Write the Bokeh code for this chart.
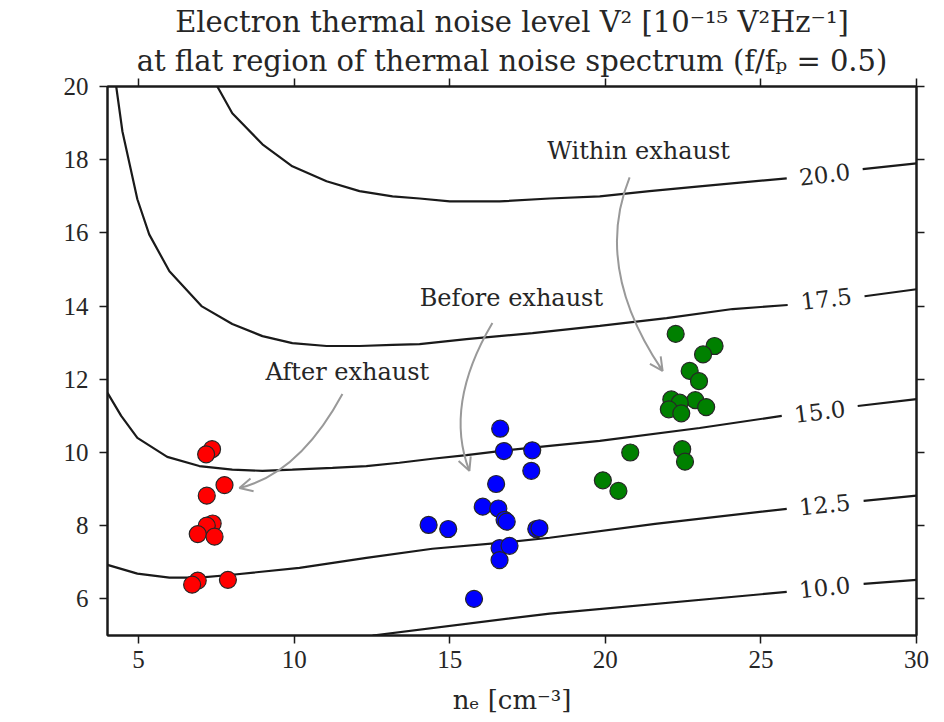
import math
from bokeh.plotting import figure
from bokeh.models import Range1d, LinearAxis, Label, Title, Arrow, OpenHead, FixedTicker
from bokeh.embed import file_html
from bokeh.resources import INLINE

nan = float("nan")

# ---------------- data ----------------
x_ticks = [5, 10, 15, 20, 25, 30]
y_ticks = [6, 8, 10, 12, 14, 16, 18, 20]

after_ne = [7.36, 7.17, 7.76, 7.19, 7.38, 7.19, 6.90, 7.44, 6.90, 6.72, 7.87]
after_tc = [10.09, 9.95, 9.11, 8.82, 8.06, 8.00, 7.77, 7.70, 6.50, 6.39, 6.52]

before_ne = [16.62, 16.74, 17.65, 17.62, 16.49, 16.06, 16.56, 16.76, 16.83, 14.32, 14.95,
             17.78, 17.88, 16.60, 16.92, 16.60, 15.78]
before_tc = [10.65, 10.04, 10.06, 9.50, 9.14, 8.52, 8.47, 8.16, 8.11, 8.02, 7.91,
             7.91, 7.93, 7.39, 7.45, 7.06, 6.00]

within_ne = [22.26, 23.51, 23.14, 22.71, 23.01, 22.89, 23.24, 22.12, 22.39, 22.04, 22.44,
             20.80, 22.47, 22.56, 19.92, 20.42]
within_tc = [13.24, 12.91, 12.68, 12.23, 11.95, 11.43, 11.24, 11.45, 11.36, 11.18, 11.07,
             10.00, 10.09, 9.75, 9.24, 8.95]

contour_levels = ["20.0", "17.5", "15.0", "12.5", "10.0"]
c200_x = [7.53, 8.01, 8.98, 9.94, 11.04, 12.10, 13.16, 14.03, 15.00, 16.60, 18.21, 19.82,
          21.42, 23.03, 25.83, nan, 28.27, 30.0]
c200_y = [20.0, 19.27, 18.42, 17.82, 17.41, 17.14, 17.00, 16.94, 16.86, 16.86, 16.94, 17.00,
          17.14, 17.27, 17.49, nan, 17.74, 17.90]
c175_x = [4.28, 4.48, 4.96, 5.34, 5.99, 7.02, 8.01, 8.98, 9.94, 11.04, 12.10, 13.16, 14.03,
          15.54, 17.66, 19.82, 21.97, 24.09, 25.86, nan, 28.33, 30.0]
c175_y = [20.0, 18.77, 16.92, 15.96, 14.95, 14.00, 13.51, 13.18, 12.99, 12.91, 12.91, 12.94,
          12.96, 13.10, 13.26, 13.46, 13.67, 13.92, 14.03, nan, 14.27, 14.46]
c150_x = [4.0, 4.44, 4.96, 5.92, 6.95, 8.01, 8.98, 9.94, 11.23, 12.32, 13.38, 14.44, 15.54,
          16.60, 18.21, 19.82, 23.03, 25.67, nan, 28.11, 30.0]
c150_y = [11.63, 11.0, 10.40, 9.88, 9.63, 9.53, 9.50, 9.53, 9.58, 9.63, 9.72, 9.83, 9.93,
          10.04, 10.18, 10.32, 10.67, 11.0, nan, 11.27, 11.46]
c125_x = [4.0, 4.96, 5.99, 6.95, 8.01, 10.17, 12.32, 14.44, 16.60, 18.21, 21.60, 25.83, nan,
          28.30, 30.0]
c125_y = [6.93, 6.69, 6.58, 6.58, 6.66, 6.85, 7.12, 7.37, 7.53, 7.67, 8.05, 8.46, nan,
          8.68, 8.82]
c100_x = [12.52, 18.21, 25.83, nan, 28.30, 30.0]
c100_y = [5.0, 5.60, 6.19, nan, 6.41, 6.52]

contour_xs = [c200_x, c175_x, c150_x, c125_x, c100_x]
contour_ys = [c200_y, c175_y, c150_y, c125_y, c100_y]
clabel_x = [27.05, 27.10, 26.89, 27.05, 27.05]
clabel_y = [17.59, 14.19, 11.11, 8.57, 6.31]
clabel_angle_deg = [6.7, 6.7, 7.3, 5.9, 5.9]

ann_text = ["After exhaust", "Before exhaust", "Within exhaust"]
ann_x = [11.71, 16.98, 21.07]
ann_y = [12.20, 14.22, 18.23]
arr_x0 = [11.55, 16.37, 20.78]
arr_y0 = [11.60, 13.54, 17.52]
arr_cx = [10.17, 14.81, 19.60]
arr_cy = [9.43, 11.30, 15.04]
arr_x1 = [8.24, 15.63, 21.84]
arr_y1 = [9.03, 9.50, 12.23]

title_line1 = "Electron thermal noise level V² [10⁻¹⁵ V²Hz⁻¹]"
title_line2 = "at flat region of thermal noise spectrum (f/fₚ = 0.5)"

# ---------------- style ----------------
TXT = "#262626"
AX = "#1a1a1a"
GRAY = "#999999"
TICK_FONT = "Liberation Serif"
SERIF = "DejaVu Serif"

p = figure(width=944, height=722, x_range=Range1d(4, 30), y_range=Range1d(5, 20),
           output_backend="svg", toolbar_location=None,
           min_border_left=107, min_border_right=28, min_border_top=0, min_border_bottom=87,
           x_axis_label="nₑ [cm⁻³]")
p.grid.visible = False
p.outline_line_color = AX
p.outline_line_width = 2
p.background_fill_color = "white"
p.border_fill_color = "white"


def style_axis(ax, ticks, labels=True):
    ax.ticker = FixedTicker(ticks=ticks)
    ax.axis_line_color = AX
    ax.axis_line_width = 2
    ax.major_tick_line_color = AX
    ax.major_tick_line_width = 1.5
    ax.major_tick_out = 8
    ax.major_tick_in = 0
    ax.minor_tick_line_color = None
    ax.major_label_text_font = TICK_FONT
    ax.major_label_text_color = TXT
    if labels:
        ax.major_label_text_font_size = "25px"
    else:
        ax.major_label_text_font_size = "1px"
        ax.major_label_text_color = None
        ax.major_label_standoff = 0


style_axis(p.xaxis[0], x_ticks)
style_axis(p.yaxis[0], y_ticks)
p.xaxis[0].major_label_standoff = 7
p.yaxis[0].major_label_standoff = 11
p.xaxis[0].axis_label_text_font = SERIF
p.xaxis[0].axis_label_text_font_size = "26px"
p.xaxis[0].axis_label_text_font_style = "normal"
p.xaxis[0].axis_label_text_color = TXT
p.xaxis[0].axis_label_standoff = 14

top_axis = LinearAxis()
style_axis(top_axis, x_ticks, labels=False)
p.add_layout(top_axis, "above")
right_axis = LinearAxis()
style_axis(right_axis, y_ticks, labels=False)
p.add_layout(right_axis, "right")

t2 = Title(text=title_line2, align="center", text_font=SERIF, text_font_size="29px",
           text_font_style="normal", text_color=TXT, standoff=2)
p.add_layout(t2, "above")
t1 = Title(text=title_line1, align="center", text_font=SERIF, text_font_size="29px",
           text_font_style="normal", text_color=TXT, standoff=4)
p.add_layout(t1, "above")

# y axis label composed of parts (T with subscript c)
p.add_layout(Label(x=1.90, y=11.35, text="T", angle=math.pi / 2, text_align="left",
                   text_baseline="alphabetic", text_font=SERIF, text_font_size="25px",
                   text_font_style="italic", text_color=TXT))
p.add_layout(Label(x=2.06, y=11.76, text="c", angle=math.pi / 2, text_align="left",
                   text_baseline="alphabetic", text_font=SERIF, text_font_size="18px",
                   text_font_style="italic", text_color=TXT))
p.add_layout(Label(x=1.90, y=12.14, text="[eV]", angle=math.pi / 2, text_align="left",
                   text_baseline="alphabetic", text_font=SERIF, text_font_size="25px",
                   text_color=TXT))

# contours
for cx, cy in zip(contour_xs, contour_ys):
    p.line(cx, cy, line_color=AX, line_width=2.2)
for lx, ly, la, lt in zip(clabel_x, clabel_y, clabel_angle_deg, contour_levels):
    p.add_layout(Label(x=lx, y=ly, text=lt, angle=math.radians(la), text_align="center",
                       text_baseline="middle", text_font=SERIF, text_font_size="23px",
                       text_color=TXT))

# annotation arrows
p.quadratic(x0=arr_x0, y0=arr_y0, x1=arr_x1, y1=arr_y1, cx=arr_cx, cy=arr_cy,
            line_color=GRAY, line_width=2)
for x1, y1, cx, cy in zip(arr_x1, arr_y1, arr_cx, arr_cy):
    xs = x1 - 0.05 * (x1 - cx)
    ys = y1 - 0.05 * (y1 - cy)
    p.add_layout(Arrow(end=OpenHead(size=13, line_color=GRAY, line_width=2),
                       x_start=xs, y_start=ys, x_end=x1, y_end=y1,
                       line_color=GRAY, line_width=2))
for tx, ty, tt in zip(ann_x, ann_y, ann_text):
    p.add_layout(Label(x=tx, y=ty, text=tt, text_align="center", text_baseline="middle",
                       text_font=SERIF, text_font_size="24px", text_color=TXT))

# scatter
p.scatter(after_ne, after_tc, size=17, fill_color="#ff0000", line_color="#262626", line_width=1.2)
p.scatter(before_ne, before_tc, size=17, fill_color="#0000ff", line_color="#262626", line_width=1.2)
p.scatter(within_ne, within_tc, size=17, fill_color="#008000", line_color="#262626", line_width=1.2)

open("out.html", "w").write(file_html(p, INLINE))
